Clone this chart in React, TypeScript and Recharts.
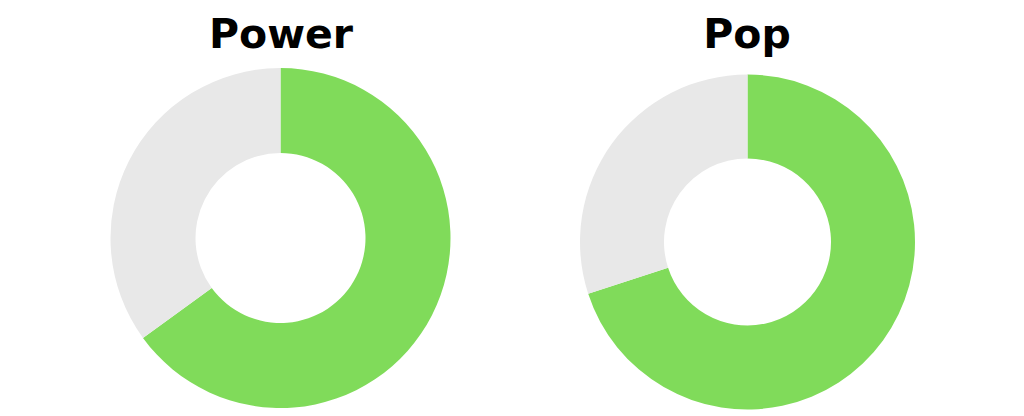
import { PieChart, Pie, Cell } from "recharts"

const categories = ["Power", "Pop"]
const scores = [65, 70]
const maxScore = 100

const GREEN = "#80db5a"
const GREY = "#e8e8e8"

const layout = [
    { cx: 280.5, cy: 238, outer: 170, inner: 85, titleX: 281 },
    { cx: 747.5, cy: 242, outer: 167.5, inner: 83.5, titleX: 747 },
]

export default function App() {
    return (
        <div style={{ position: "absolute", left: 0, top: 0, width: 1024, height: 416, background: "#fff" }}>
            <PieChart width={1024} height={416} margin={{ top: 0, right: 0, bottom: 0, left: 0 }}>
                {categories.map((name, i) => {
                    const data = [
                        { name: name, value: scores[i] },
                        { name: "rest", value: maxScore - scores[i] },
                    ]
                    const l = layout[i]
                    return (
                        <Pie
                            key={name}
                            data={data}
                            dataKey="value"
                            cx={l.cx}
                            cy={l.cy}
                            outerRadius={l.outer}
                            innerRadius={l.inner}
                            startAngle={90}
                            endAngle={-270}
                            stroke="none"
                            isAnimationActive={false}
                        >
                            <Cell fill={GREEN} />
                            <Cell fill={GREY} />
                        </Pie>
                    )
                })}
            </PieChart>
            {categories.map((name, i) => (
                <div
                    key={name}
                    style={{
                        position: "absolute",
                        left: layout[i].titleX - 150,
                        width: 300,
                        top: 6,
                        textAlign: "center",
                        fontFamily: "'DejaVu Sans', sans-serif",
                        fontWeight: 700,
                        fontSize: 41,
                        lineHeight: "56px",
                        color: "#000",
                    }}
                >
                    {name}
                </div>
            ))}
        </div>
    )
}
